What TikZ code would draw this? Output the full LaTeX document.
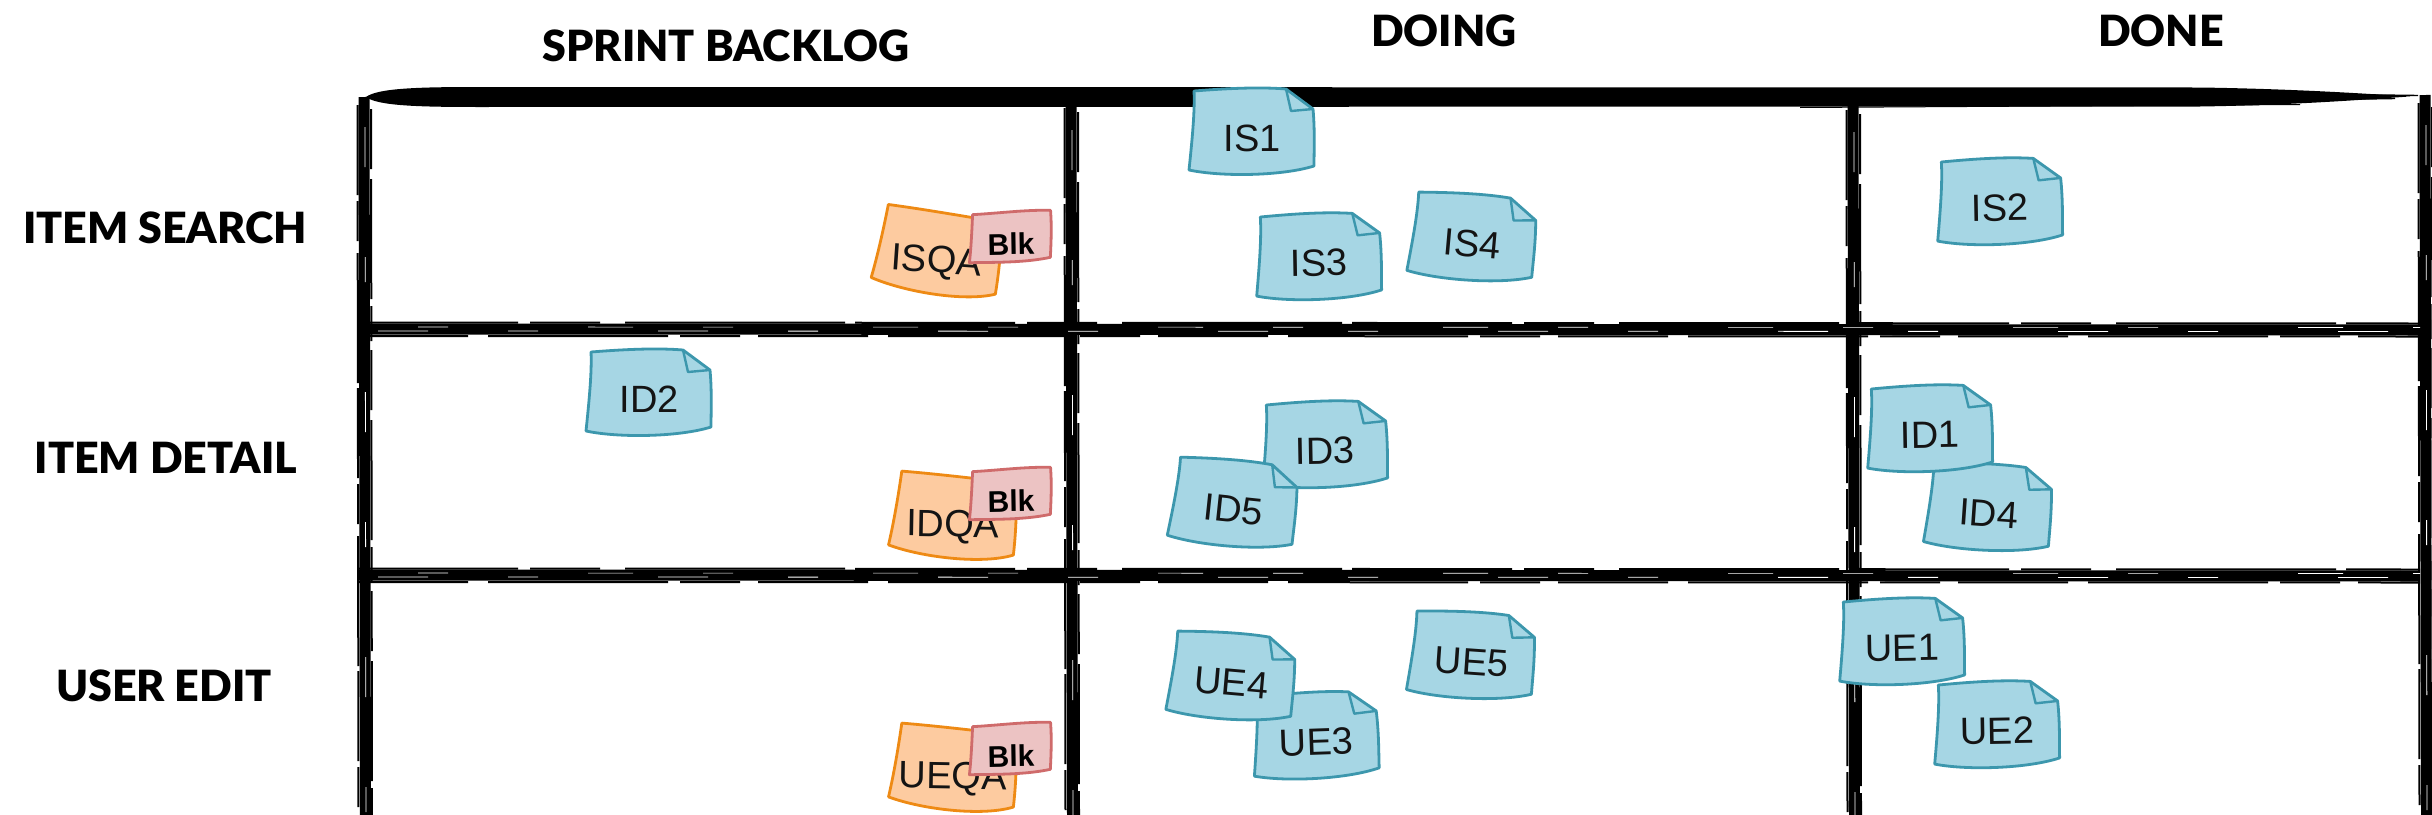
\documentclass[tikz,border=0pt]{standalone}
\usepackage{fontspec}
\setmainfont{Liberation Sans}
\newfontfamily\hdrfont{Lato Black}
\definecolor{bfill}{HTML}{A6D6E4}
\definecolor{bline}{HTML}{3C97AD}
\definecolor{ofill}{HTML}{FDCBA0}
\definecolor{oline}{HTML}{EE8A14}
\definecolor{pfill}{HTML}{ECC3C3}
\definecolor{pline}{HTML}{CF6B6B}
\tikzset{
  brush/.style={line width=11pt, black},
  fringe/.style={line width=2pt, black},
  hdr/.style={inner sep=0pt, font=\hdrfont\fontsize{43}{50}\selectfont},
  ntext/.style={inner sep=0pt, text=black!92, font=\fontsize{38}{44}\selectfont},
  btext/.style={inner sep=0pt, text=black, font=\bfseries\fontsize{30}{34}\selectfont},
  bnote/.style={fill=bfill, draw=bline, line width=2.8pt, line join=round},
  bfold/.style={draw=bline, line width=2.4pt, line join=round},
  onote/.style={fill=ofill, draw=oline, line width=2.8pt, line join=round},
  pnote/.style={fill=pfill, draw=pline, line width=2.8pt, line join=round}
}
\newcommand\vbrush[3]{%
  \draw[brush] (#1,#2) -- ({#1+1.5},#3);
  \draw[fringe, dash pattern=on 90pt off 6pt on 40pt off 12pt on 130pt off 5pt] ({#1-6.5},{#2+8}) -- ({#1-5.5},#3);
  \draw[fringe, dash pattern=on 60pt off 10pt on 120pt off 7pt on 35pt off 9pt] ({#1+7},{#2+12}) -- ({#1+8},#3);
  \draw[white, line width=0.8pt, dash pattern=on 40pt off 90pt on 25pt off 110pt] ({#1+1},{#2+30}) -- ({#1+2},#3);
}
\newcommand\hbrush[3]{%
  \draw[brush] (#2,#1) -- (#3,{#1+1});
  \draw[fringe, dash pattern=on 160pt off 12pt on 70pt off 25pt on 220pt off 10pt] (#2,{#1-6.5}) -- (#3,{#1-5.5});
  \draw[fringe, dash pattern=on 110pt off 20pt on 180pt off 12pt on 60pt off 18pt] (#2,{#1+7}) -- (#3,{#1+7.5});
  \draw[white, line width=0.8pt, dash pattern=on 50pt off 80pt on 30pt off 120pt] ({#2+20},{#1+2}) -- (#3,{#1+2.5});
  \draw[white, line width=0.6pt, dash pattern=on 30pt off 140pt on 45pt off 70pt] ({#2+60},{#1-2}) -- (#3,{#1-1.5});
}
\newcommand\bluenote[5]{%
  \begin{scope}[shift={(#2,#3)},rotate=#4]
    \path[bnote] (-58,-40) .. controls (-20,-43) and (10,-44) .. (34,-42) -- (61,-22) .. controls (63,0) and (62,20) .. (62,35) .. controls (30,45) and (-30,46) .. (-63,39) .. controls (-60,10) and (-57,-20) .. (-58,-40) -- cycle;
    \path[bfold] (34,-42) .. controls (36,-31) .. (39,-20) -- (61,-22);
    \node[ntext,transform shape] (#1) at (0,7) {#5};
  \end{scope}}
\newcommand\qanote[5]{%
  \begin{scope}[shift={(#2,#3)},rotate=#4]
    \path[onote] (-52,-46) .. controls (-20,-44) and (20,-40) .. (62,-36) .. controls (64,-10) and (63,15) .. (61,36) .. controls (30,46) and (-30,40) .. (-64,28) .. controls (-58,0) and (-54,-30) .. (-52,-46) -- cycle;
    \node[ntext,transform shape] (#1) at (0,9) {#5};
  \end{scope}}
\newcommand\blknote[4]{%
  \begin{scope}[shift={(#2,#3)},rotate=#4]
    \path[pnote] (-37,-24) .. controls (-10,-25) and (15,-28) .. (41,-27) .. controls (42,-10) and (41,5) .. (40,20) .. controls (15,25) and (-15,24) .. (-41,24) .. controls (-39,8) and (-38,-8) .. (-37,-24) -- cycle;
    \node[btext,transform shape] (#1) at (1,6) {Blk};
  \end{scope}}
\begin{document}
\begin{tikzpicture}[x=1pt,y=-1pt]
\useasboundingbox (0,0) rectangle (2432,814);
\fill[white] (0,0) rectangle (2432,814);
% grid
\vbrush{364}{97}{820}
\vbrush{1071}{100}{820}
\vbrush{1853}{102}{820}
\vbrush{2425}{95}{820}
\hbrush{329}{358}{2420}
\hbrush{575}{358}{2420}
% top line
\fill (366,97) .. controls (378,88) and (420,87) .. (480,87) -- (2200,87.5) .. controls (2300,89) and (2370,94) .. (2410,96.5) .. controls (2370,99) and (2300,105) .. (2200,106.5) -- (480,107) .. controls (420,107) and (378,106) .. (366,97) -- cycle;
\draw[line width=1.4pt] (2150,92) -- (2418,95.5);
\draw[line width=1.4pt] (2120,103) -- (2395,98.5);
\draw[line width=1pt] (1800,107.5) -- (2300,104.5);
% headers
\node[hdr] (hsb) at (726,46) {SPRINT BACKLOG};
\node[hdr] (hdoing) at (1444,31) {DOING};
\node[hdr] (hdone) at (2161,31) {DONE};
\node[hdr] (ris) at (165,228) {ITEM SEARCH};
\node[hdr] (rid) at (166,458) {ITEM DETAIL};
\node[hdr] (rue) at (164,686) {USER EDIT};
% row 1
\bluenote{is1}{1252}{131}{0}{IS1}
\bluenote{is3}{1319}{256}{1}{IS3}
\bluenote{is4}{1473}{237}{-5}{IS4}
\bluenote{is2}{2000}{201}{1}{IS2}
\qanote{isqa}{937}{254}{-4}{ISQA}
\blknote{isblk}{1010}{238}{1}
% row 2
\bluenote{id2}{649}{392}{0}{ID2}
\bluenote{id3}{1325}{444}{1}{ID3}
\bluenote{id5}{1234}{503}{-6}{ID5}
\bluenote{id4}{1989}{507}{-4}{ID4}
\bluenote{id1}{1930}{428}{1}{ID1}
\qanote{idqa}{953}{518}{-1}{IDQA}
\blknote{idblk}{1010}{495}{1}
% row 3
\bluenote{ue3}{1316}{735}{2}{UE3}
\bluenote{ue4}{1232}{676}{-5}{UE4}
\bluenote{ue5}{1472}{655}{-4}{UE5}
\bluenote{ue2}{1997}{724}{1}{UE2}
\bluenote{ue1}{1902}{641}{1}{UE1}
\qanote{ueqa}{953}{770}{-1}{UEQA}
\blknote{ueblk}{1010}{750}{1}
\end{tikzpicture}
\end{document}
